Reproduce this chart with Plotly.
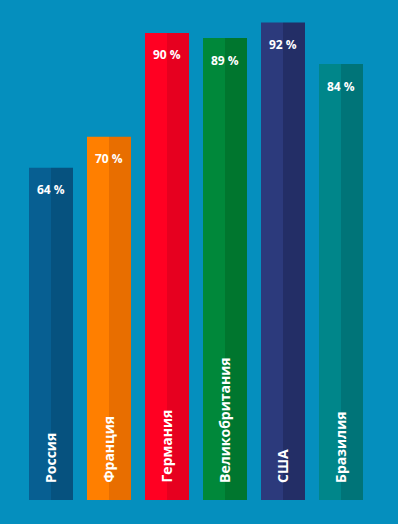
import plotly.graph_objects as go

categories = ["Россия", "Франция", "Германия", "Великобритания", "США", "Бразилия"]
values = [64, 70, 90, 89, 92, 84]
value_labels = ["64 %", "70 %", "90 %", "89 %", "92 %", "84 %"]
light_colors = ["#075f92", "#ff7f00", "#ff0022", "#00883a", "#2c3a7c", "#00868a"]
dark_colors = ["#06527f", "#e86e00", "#e6001f", "#00762e", "#232e66", "#007478"]

BG = "#058fbe"
xs = list(range(len(categories)))
half = 22 / 58

fig = go.Figure()
fig.add_trace(go.Bar(x=xs, y=values, offset=-half, width=half,
                     marker=dict(color=light_colors, line=dict(width=0)),
                     hoverinfo="skip"))
fig.add_trace(go.Bar(x=xs, y=values, offset=0, width=half,
                     marker=dict(color=dark_colors, line=dict(width=0)),
                     hoverinfo="skip"))

for x, v, lab, cat in zip(xs, values, value_labels, categories):
    fig.add_annotation(x=x, y=v, text=lab, showarrow=False, yanchor="middle",
                       xanchor="center", yshift=-22,
                       font=dict(family="Open Sans", size=12, color="white", weight="bold"))
    fig.add_annotation(x=x, y=0, text=cat, showarrow=False, textangle=-90,
                       yanchor="bottom", xanchor="center", yshift=15, xshift=-1,
                       font=dict(family="Open Sans", size=14, color="white", weight="bold"))

fig.update_layout(
    width=398, height=524,
    margin=dict(l=0, r=0, t=0, b=0),
    paper_bgcolor=BG, plot_bgcolor=BG,
    barmode="overlay", showlegend=False,
    xaxis=dict(range=[-51 / 58, 347 / 58], visible=False, fixedrange=True),
    yaxis=dict(range=[-24 / 5.19, 500 / 5.19], visible=False, fixedrange=True),
)

fig.write_html("out.html", config={"displayModeBar": False},
               post_script="document.body.style.margin='0';document.body.style.overflow='hidden';document.body.style.background='%s';" % BG)
